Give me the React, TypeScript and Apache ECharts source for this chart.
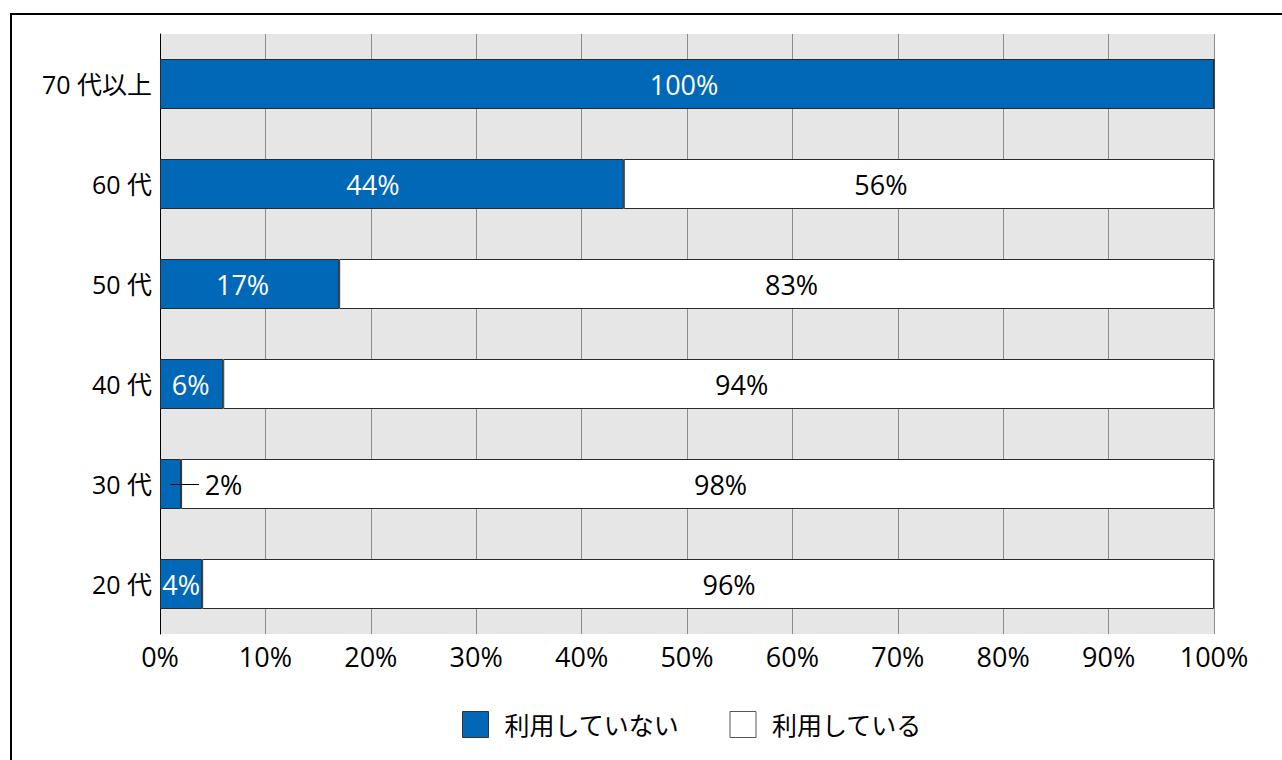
import React, { useEffect, useRef } from "react";
import * as echarts from "echarts";

const categories = ["20 代", "30 代", "40 代", "50 代", "60 代", "70 代以上"];
const notUsing = [4, 2, 6, 17, 44, 100];
const using = [96, 98, 94, 83, 56, 0];
const xTicks = [0, 10, 20, 30, 40, 50, 60, 70, 80, 90, 100];
const seriesNames = ["利用していない", "利用している"];

// label placement tweaks (pixels) as in the original, where labels are not exactly centred
const labelShiftNotUsing = [0, 53, -1, -7, -19, -3];
const labelShiftUsing = [21, 23, 23, 15, -38, 0];

const FONT = "'Open Sans', 'Noto Sans CJK JP', sans-serif";
const BLUE = "#0068b7";
const SMALL = 2; // values at or below this get an outside label with a leader line

export default function App() {
  const ref = useRef<HTMLDivElement>(null);
  useEffect(() => {
    if (!ref.current) return;
    const chart = echarts.init(ref.current, null, { renderer: "svg" });
    const isSmall = (v: number) => v > 0 && v <= SMALL;
    const leaderLines = notUsing
      .map((v, i) => ({ v, i }))
      .filter((d) => isSmall(d.v))
      .map((d) => [
        { coord: [d.v / 2, categories[d.i]] },
        { coord: [d.v + 1.7, categories[d.i]] },
      ]);
    chart.setOption({
      animation: false,
      backgroundColor: "#ffffff",
      textStyle: { fontFamily: FONT },
      graphic: [
        {
          type: "rect",
          shape: { x: 11, y: 14, width: 1400, height: 900 },
          style: { fill: "none", stroke: "#000", lineWidth: 2 },
          silent: true,
          z: 100,
        },
      ],
      grid: {
        left: 160,
        right: 68,
        top: 34,
        bottom: 126,
        show: true,
        backgroundColor: "#e6e6e6",
        borderWidth: 0,
      },
      legend: {
        top: 706,
        left: 457,
        icon: "rect",
        itemWidth: 26,
        itemHeight: 26,
        itemGap: 50,
        textStyle: { fontSize: 25, color: "#000", fontFamily: FONT, padding: [0, 0, 0, 11] },
        data: [
          { name: seriesNames[0], itemStyle: { color: BLUE, borderColor: "#333", borderWidth: 1 } },
          { name: seriesNames[1], itemStyle: { color: "#fff", borderColor: "#555", borderWidth: 1 } },
        ],
      },
      xAxis: {
        type: "value",
        min: 0,
        max: 100,
        interval: 10,
        axisLine: { show: false },
        axisTick: { show: false },
        splitLine: { show: true, lineStyle: { color: "#8c8c8c", width: 1 } },
        axisLabel: {
          fontSize: 27,
          color: "#000",
          margin: 9,
          fontFamily: FONT,
          formatter: (v: number) => (xTicks.includes(v) ? v + "%" : ""),
        },
      },
      yAxis: {
        type: "category",
        data: categories,
        axisLine: { show: true, lineStyle: { color: "#000", width: 1 } },
        axisTick: { show: false },
        axisLabel: { fontSize: 25, color: "#000", margin: 8, fontFamily: FONT },
      },
      series: [
        {
          name: seriesNames[0],
          type: "bar",
          stack: "total",
          barWidth: 50,
          data: notUsing.map((v) =>
            isSmall(v) ? { value: v, label: { color: "#000" } } : v
          ),
          itemStyle: { color: BLUE, borderColor: "#2a2a2a", borderWidth: 1 },
          label: {
            show: true,
            position: "inside",
            color: "#fff",
            fontSize: 27,
            fontFamily: FONT,
            formatter: (p: any) => (p.value > 0 ? p.value + "%" : ""),
          },
          labelLayout: (params: any) => ({ dx: labelShiftNotUsing[params.dataIndex] || 0 }),
          markLine: {
            silent: true,
            symbol: "none",
            label: { show: false },
            lineStyle: { color: "#000", width: 1, type: "solid" },
            data: leaderLines,
          },
        },
        {
          name: seriesNames[1],
          type: "bar",
          stack: "total",
          barWidth: 50,
          data: using,
          itemStyle: { color: "#fff", borderColor: "#2a2a2a", borderWidth: 1 },
          label: {
            show: true,
            position: "inside",
            color: "#000",
            fontSize: 27,
            fontFamily: FONT,
            formatter: (p: any) => (p.value > 0 ? p.value + "%" : ""),
          },
          labelLayout: (params: any) => ({ dx: labelShiftUsing[params.dataIndex] || 0 }),
        },
      ],
    });
    return () => chart.dispose();
  }, []);
  return (
    <div
      ref={ref}
      style={{ position: "absolute", left: 0, top: 0, width: 1282, height: 760 }}
    />
  );
}
